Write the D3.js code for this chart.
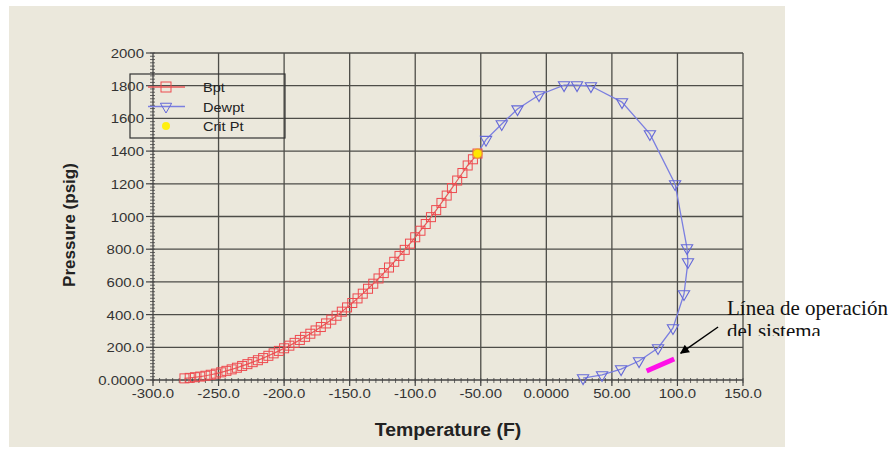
<!DOCTYPE html>
<html>
<head>
<meta charset="utf-8">
<script src="https://cdn.jsdelivr.net/npm/d3@7"></script>
<style>
  body { margin: 0; background: #fff; }
  text { font-family: "Liberation Sans", Arial, sans-serif; }
</style>
</head>
<body>
<svg id="chart" width="893" height="449"></svg>
<script>
// bubble point curve (red squares)
const bptTemp = [-276, -272, -268, -264, -260, -256, -252, -248, -244, -240, -236, -232, -228, -224, -220, -216,
  -212, -208, -204, -200, -196, -192, -188, -184, -180, -176, -172, -168, -164, -160, -156, -152, -148, -144,
  -140, -136, -132, -128, -124, -120, -116, -112, -108, -104, -100, -96, -92, -88, -84, -80, -76, -72, -68,
  -64, -60, -56, -52.5];
const bptPress = [10, 13, 17, 21, 26, 32, 39, 47, 56, 65, 75, 86, 97, 109, 121, 134,
  148, 163, 178, 194, 210, 227, 245, 264, 283, 303, 324, 346, 369, 393, 418, 444, 471, 499,
  528, 558, 589, 621, 654, 688, 723, 759, 796, 834, 873, 913, 954, 996, 1039, 1083, 1128, 1174, 1220,
  1266, 1312, 1350, 1385];

// dew point curve (blue triangles)
const dewTemp = [-52.5, -46, -34, -22, -5.6, 13.5, 23.4, 34, 57.7, 79, 98.2, 107.3, 108, 105, 96.6, 85.2, 70.7, 57, 42.5, 28];
const dewPress = [1385, 1470, 1566, 1657, 1743, 1804, 1804, 1798, 1700, 1505, 1199, 807, 722, 526, 318, 196, 116, 67, 31, 12];

const critPt = { t: -52.5, p: 1385 };

const xTicks = [-300, -250, -200, -150, -100, -50, 0, 50, 100, 150];
const xTickLabels = ["-300.0", "-250.0", "-200.0", "-150.0", "-100.0", "-50.00", "0.0000", "50.00", "100.0", "150.0"];
const yTicks = [0, 200, 400, 600, 800, 1000, 1200, 1400, 1600, 1800, 2000];
const yTickLabels = ["0.0000", "200.0", "400.0", "600.0", "800.0", "1000", "1200", "1400", "1600", "1800", "2000"];

const legendItems = ["Bpt", "Dewpt", "Crit Pt"];

// operating line annotation, in data units
const opLine = [[76.5, 55], [97.5, 128]];
const arrowFrom = [131, 324];
const arrowTo = [102.5, 164];
const noteLines = ["Línea de operación", "del sistema"];

const svg = d3.select("#chart");
const x = d3.scaleLinear().domain([-300, 150]).range([153, 743]);
const y = d3.scaleLinear().domain([0, 2000]).range([380, 53]);

// stretch horizontal text a bit, the source image is widened
const stretch = (sel, k) => sel.each(function () {
  const w = this.getComputedTextLength();
  d3.select(this).attr("textLength", w * k).attr("lengthAdjust", "spacingAndGlyphs");
});

svg.append("rect").attr("x", 9).attr("y", 6).attr("width", 776).attr("height", 441).attr("fill", "#ebe8dc");

// grid
const grid = svg.append("g").attr("stroke", "#4d4d48").attr("stroke-width", 1.3);
grid.selectAll(".gx").data(xTicks.slice(1)).join("line")
  .attr("x1", d => x(d)).attr("x2", d => x(d)).attr("y1", y(0)).attr("y2", y(2000));
grid.selectAll(".gy").data(yTicks.slice(1)).join("line")
  .attr("x1", x(-300)).attr("x2", x(150)).attr("y1", d => y(d)).attr("y2", d => y(d));

// axes
const xMinor = d3.range(-300, 150.1, 5);
const yMinor = d3.range(0, 2000.1, 20);
const ax = svg.append("g").attr("stroke", "#444");
ax.append("line").attr("x1", x(-300)).attr("x2", x(150)).attr("y1", y(0)).attr("y2", y(0)).attr("stroke-width", 1.3);
ax.append("line").attr("x1", x(-300)).attr("x2", x(-300)).attr("y1", y(0)).attr("y2", y(2000)).attr("stroke-width", 1.3);
ax.selectAll(".mx").data(xMinor).join("line").attr("stroke-width", 0.8)
  .attr("x1", d => x(d)).attr("x2", d => x(d)).attr("y1", y(0) - 2).attr("y2", y(0) + 3);
ax.selectAll(".my").data(yMinor).join("line").attr("stroke-width", 0.8)
  .attr("x1", x(-300) - 3).attr("x2", x(-300) + 2).attr("y1", d => y(d)).attr("y2", d => y(d));
ax.selectAll(".Mx").data(xTicks).join("line").attr("stroke-width", 1.2)
  .attr("x1", d => x(d)).attr("x2", d => x(d)).attr("y1", y(0)).attr("y2", y(0) + 6);
ax.selectAll(".My").data(yTicks).join("line").attr("stroke-width", 1.2)
  .attr("x1", x(-300) - 7).attr("x2", x(-300)).attr("y1", d => y(d)).attr("y2", d => y(d));

svg.append("g").selectAll("text").data(xTicks).join("text")
  .attr("x", d => x(d)).attr("y", y(0) + 18).attr("text-anchor", "middle")
  .attr("font-size", 13).attr("fill", "#333")
  .text((d, i) => xTickLabels[i]).call(stretch, 1.15);
svg.append("g").selectAll("text").data(yTicks).join("text")
  .attr("x", x(-300) - 9).attr("y", d => y(d) + 5).attr("text-anchor", "end")
  .attr("font-size", 13).attr("fill", "#333")
  .text((d, i) => yTickLabels[i]).call(stretch, 1.15);

svg.append("text").attr("x", 448).attr("y", 436).attr("text-anchor", "middle")
  .attr("font-size", 18).attr("font-weight", "bold").attr("fill", "#222")
  .text("Temperature (F)").call(stretch, 1.08);
svg.append("text").attr("transform", "translate(75,225) rotate(-90)").attr("text-anchor", "middle")
  .attr("font-size", 17).attr("font-weight", "bold").attr("fill", "#222")
  .text("Pressure (psig)");

// curves
const bpt = bptTemp.map((t, i) => [t, bptPress[i]]);
const dew = dewTemp.map((t, i) => [t, dewPress[i]]);
const line = d3.line().x(d => x(d[0])).y(d => y(d[1]));

svg.append("path").datum(dew).attr("d", line).attr("fill", "none")
  .attr("stroke", "#7b7fe0").attr("stroke-width", 1.3);
svg.append("path").datum(bpt).attr("d", line).attr("fill", "none")
  .attr("stroke", "#e85a5a").attr("stroke-width", 1.2);

const sq = 9;
svg.append("g").selectAll("rect").data(bpt).join("rect")
  .attr("x", d => x(d[0]) - sq / 2).attr("y", d => y(d[1]) - sq / 2)
  .attr("width", sq).attr("height", sq).attr("fill", "none")
  .attr("stroke", "#ee4a4f").attr("stroke-width", 1);

const tri = d3.symbol().type(d3.symbolTriangle).size(55);
svg.append("g").selectAll("path").data(dew.slice(1)).join("path")
  .attr("d", tri).attr("transform", d => `translate(${x(d[0])},${y(d[1])}) rotate(180)`)
  .attr("fill", "none").attr("stroke", "#6468d8").attr("stroke-width", 1.1);

svg.append("circle").attr("cx", x(critPt.t)).attr("cy", y(critPt.p)).attr("r", 4.5)
  .attr("fill", "#ffe600").attr("stroke", "#f0a020").attr("stroke-width", 1.2);

// legend
const lg = svg.append("g");
lg.append("rect").attr("x", 130).attr("y", 74).attr("width", 155).attr("height", 64)
  .attr("fill", "none").attr("stroke", "#333").attr("stroke-width", 1.2);
legendItems.forEach((name, i) => {
  const ly = 87 + i * 19.5;
  if (i === 0) {
    lg.append("line").attr("x1", 148).attr("x2", 185).attr("y1", ly).attr("y2", ly).attr("stroke", "#e85a5a").attr("stroke-width", 1.3);
    lg.append("rect").attr("x", 166 - 5).attr("y", ly - 5).attr("width", 10).attr("height", 10)
      .attr("fill", "none").attr("stroke", "#ee4a4f");
  } else if (i === 1) {
    lg.append("line").attr("x1", 148).attr("x2", 185).attr("y1", ly).attr("y2", ly).attr("stroke", "#7b7fe0").attr("stroke-width", 1.3);
    lg.append("path").attr("d", tri).attr("transform", `translate(166,${ly}) rotate(180)`)
      .attr("fill", "none").attr("stroke", "#6468d8");
  } else {
    lg.append("circle").attr("cx", 166).attr("cy", ly).attr("r", 4).attr("fill", "#ffef10");
  }
  lg.append("text").attr("x", 203).attr("y", ly + 5).attr("font-size", 13).attr("fill", "#222")
    .text(name).call(stretch, 1.12);
});

// annotation
svg.append("line").attr("x1", x(opLine[0][0])).attr("y1", y(opLine[0][1]))
  .attr("x2", x(opLine[1][0])).attr("y2", y(opLine[1][1]))
  .attr("stroke", "#ff10e8").attr("stroke-width", 5);

svg.append("defs").append("marker").attr("id", "arr").attr("viewBox", "0 0 10 10")
  .attr("refX", 9).attr("refY", 5).attr("markerWidth", 11).attr("markerHeight", 9)
  .attr("markerUnits", "userSpaceOnUse").attr("orient", "auto")
  .append("path").attr("d", "M0,0 L10,5 L0,10 z").attr("fill", "#000");
svg.append("line").attr("x1", x(arrowFrom[0])).attr("y1", y(arrowFrom[1]))
  .attr("x2", x(arrowTo[0])).attr("y2", y(arrowTo[1]))
  .attr("stroke", "#000").attr("stroke-width", 1.4).attr("marker-end", "url(#arr)");

svg.append("clipPath").attr("id", "noteClip").append("rect")
  .attr("x", 700).attr("y", 280).attr("width", 193).attr("height", 56);
const note = svg.append("g").attr("clip-path", "url(#noteClip)");
noteLines.forEach((s, i) => {
  note.append("text").attr("x", 727).attr("y", 315 + i * 23)
    .style("font-family", "'Liberation Serif', 'Times New Roman', serif")
    .attr("font-size", 21).attr("fill", "#111").text(s);
});
</script>
</body>
</html>
